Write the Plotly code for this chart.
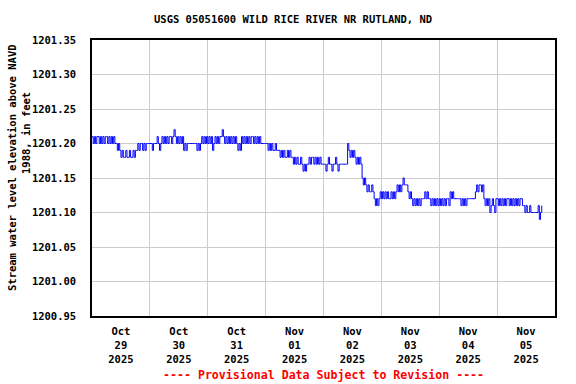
import datetime as dt
import plotly.graph_objects as go

# Gage height above 1201.00 ft, in hundredths of a foot, every 30 minutes from 2025-10-29 00:00
day_oct29 = [21,20,21,20,21,21,20,21,20,21,20,21,21,20,21,20,21,20,21,20,
             20,19,20, 19,18,19,18, 18,19,18,18,19,18,18,19,18,19,
             19,20,19,20,20,19,20,19,20,20, 20]
day_oct30 = [20,20,19,20,20,20, 21,20, 19,20,21,20, 21,20,21,20,21,21,20,21,
             22,21, 20,21,20,21,20,21, 19,20,19,20,
             20,20,20,20,20,20,20,19,20,19,20, 21,20,21,20,21]
day_oct31 = [20,21,20,21, 19,20, 21,20,21,20,21,21, 22,21,
             20,21,20,21,20,21,20,21,20,21, 20,19,20,19,21,20,
             21,20,21,20,21,20,21,21,20,21,20,21,20,21,20,20, 20,20]
day_nov01 = [20,20, 19,20,19,20, 19,19,20,19,19,19,
             18,19,18,19,18,18,19,18,19,18,18, 17,18,17,18,17,17,18,
             17,16,17,16,17, 17,18,17,18,18,17,18,17,18,17,18,17,17]
day_nov02 = [17,17,16,17,18,17,17,16,17,17,18,17,16,17,17,17, 17,17,17,17,
             20, 19,18,19,18,19, 18,17,18,17,18,17, 15,14,15,
             14,13,14,13,13, 14,13, 12,11,12,11,12, 13]
day_nov03 = [12,13,12,13,12,13,12,12,13,12,13,12, 13,14,13,14,13,14, 15, 14,14,14,
             13,12,13,12, 11,12,11,12,11,12,11,12,12, 12,13,12,13,12,12,
             11,12,11,12,11,12,11]
day_nov04 = [12,11,12,11,12,11,12,12,11, 13,12,13, 12,12,12,12,12,12,
             11,12,11,12,11,12, 12,12,12,12,12,12, 13,14,13,14,14,13,14,
             12,11,12, 11,12,10,11,12,11,10,12]
day_nov05 = [12,11,12,11,12,11,12,11,12,12,11,12,11,12,11,12,11,12,11,12,12,11,
             11,10,11,10,10,11, 10,10,10,10,10,10, 11,9,10,11]

base_elevation = 1201.00
cents = day_oct29 + day_oct30 + day_oct31 + day_nov01 + day_nov02 + day_nov03 + day_nov04 + day_nov05
start = dt.datetime(2025, 10, 29, 0, 0)
times = [start + dt.timedelta(minutes=30 * i) for i in range(len(cents))]
values = [round(base_elevation + c / 100.0, 2) for c in cents]

y_ticks = [1200.95, 1201.00, 1201.05, 1201.10, 1201.15, 1201.20, 1201.25, 1201.30, 1201.35]
day_starts = [dt.datetime(2025, 10, 29) + dt.timedelta(days=d) for d in range(9)]
tick_labels = ["Oct<br>29<br>2025", "Oct<br>30<br>2025", "Oct<br>31<br>2025", "Nov<br>01<br>2025",
               "Nov<br>02<br>2025", "Nov<br>03<br>2025", "Nov<br>04<br>2025", "Nov<br>05<br>2025"]
label_pos = [d + dt.timedelta(hours=12) for d in day_starts[:8]]

FONT = "DejaVu Sans Mono"

fig = go.Figure()
fig.add_trace(go.Scatter(x=times, y=values, mode="lines", line=dict(color="#0000FF", width=1, shape="hv"),
                         showlegend=False, hoverinfo="skip"))

fig.update_layout(
    width=576, height=384,
    margin=dict(l=92, r=21, t=40, b=68),
    paper_bgcolor="white", plot_bgcolor="white",
    font=dict(family=FONT, size=10.5, color="black"),
    xaxis=dict(
        range=[day_starts[0], day_starts[8]],
        tickmode="array", tickvals=label_pos, ticktext=[f"<b>{t}</b>" for t in tick_labels],
        showgrid=False, ticks="outside", ticklen=5, tickcolor="rgba(0,0,0,0)",
        minor=dict(tickmode="array", tickvals=day_starts[1:8], showgrid=True, gridcolor="#cccccc", gridwidth=1),
        showline=True, linecolor="black", linewidth=1.5, mirror=True, zeroline=False,
        tickfont=dict(family=FONT, size=10.5), automargin=False,
    ),
    yaxis=dict(
        range=[1200.95, 1201.35],
        tickmode="array", tickvals=y_ticks, ticktext=[f"<b>{v:.2f}</b>" for v in y_ticks],
        showgrid=True, gridcolor="#cccccc", gridwidth=1,
        ticks="outside", ticklen=12, tickcolor="rgba(0,0,0,0)",
        showline=True, linecolor="black", linewidth=1.5, mirror=True, zeroline=False,
        tickfont=dict(family=FONT, size=10.5), automargin=False,
    ),
)

fig.add_annotation(text="<b>USGS 05051600 WILD RICE RIVER NR RUTLAND, ND</b>", xref="paper", yref="paper",
                   x=(292.5 - 92) / 463, y=(316 - 19) / 276, xanchor="center", yanchor="middle",
                   showarrow=False, font=dict(family=FONT, size=10.5, color="black"))
fig.add_annotation(text="<b>Stream water level elevation above NAVD</b>", xref="paper", yref="paper",
                   x=(12 - 92) / 463, y=(316 - 168) / 276, xanchor="center", yanchor="middle", textangle=-90,
                   showarrow=False, font=dict(family=FONT, size=10.5, color="black"))
fig.add_annotation(text="<b>1988, in feet</b>", xref="paper", yref="paper",
                   x=(26 - 92) / 463, y=(316 - 133) / 276, xanchor="center", yanchor="middle", textangle=-90,
                   showarrow=False, font=dict(family=FONT, size=10.5, color="black"))
fig.add_annotation(text="<b>---- Provisional Data Subject to Revision ----</b>", xref="paper", yref="paper",
                   x=0.5, y=(316 - 375) / 276, xanchor="center", yanchor="middle",
                   showarrow=False, font=dict(family=FONT, size=11.6, color="red"))

fig.write_html("out.html", config={"displayModeBar": False},
               post_script="document.body.style.margin='0';document.body.style.padding='0';")
